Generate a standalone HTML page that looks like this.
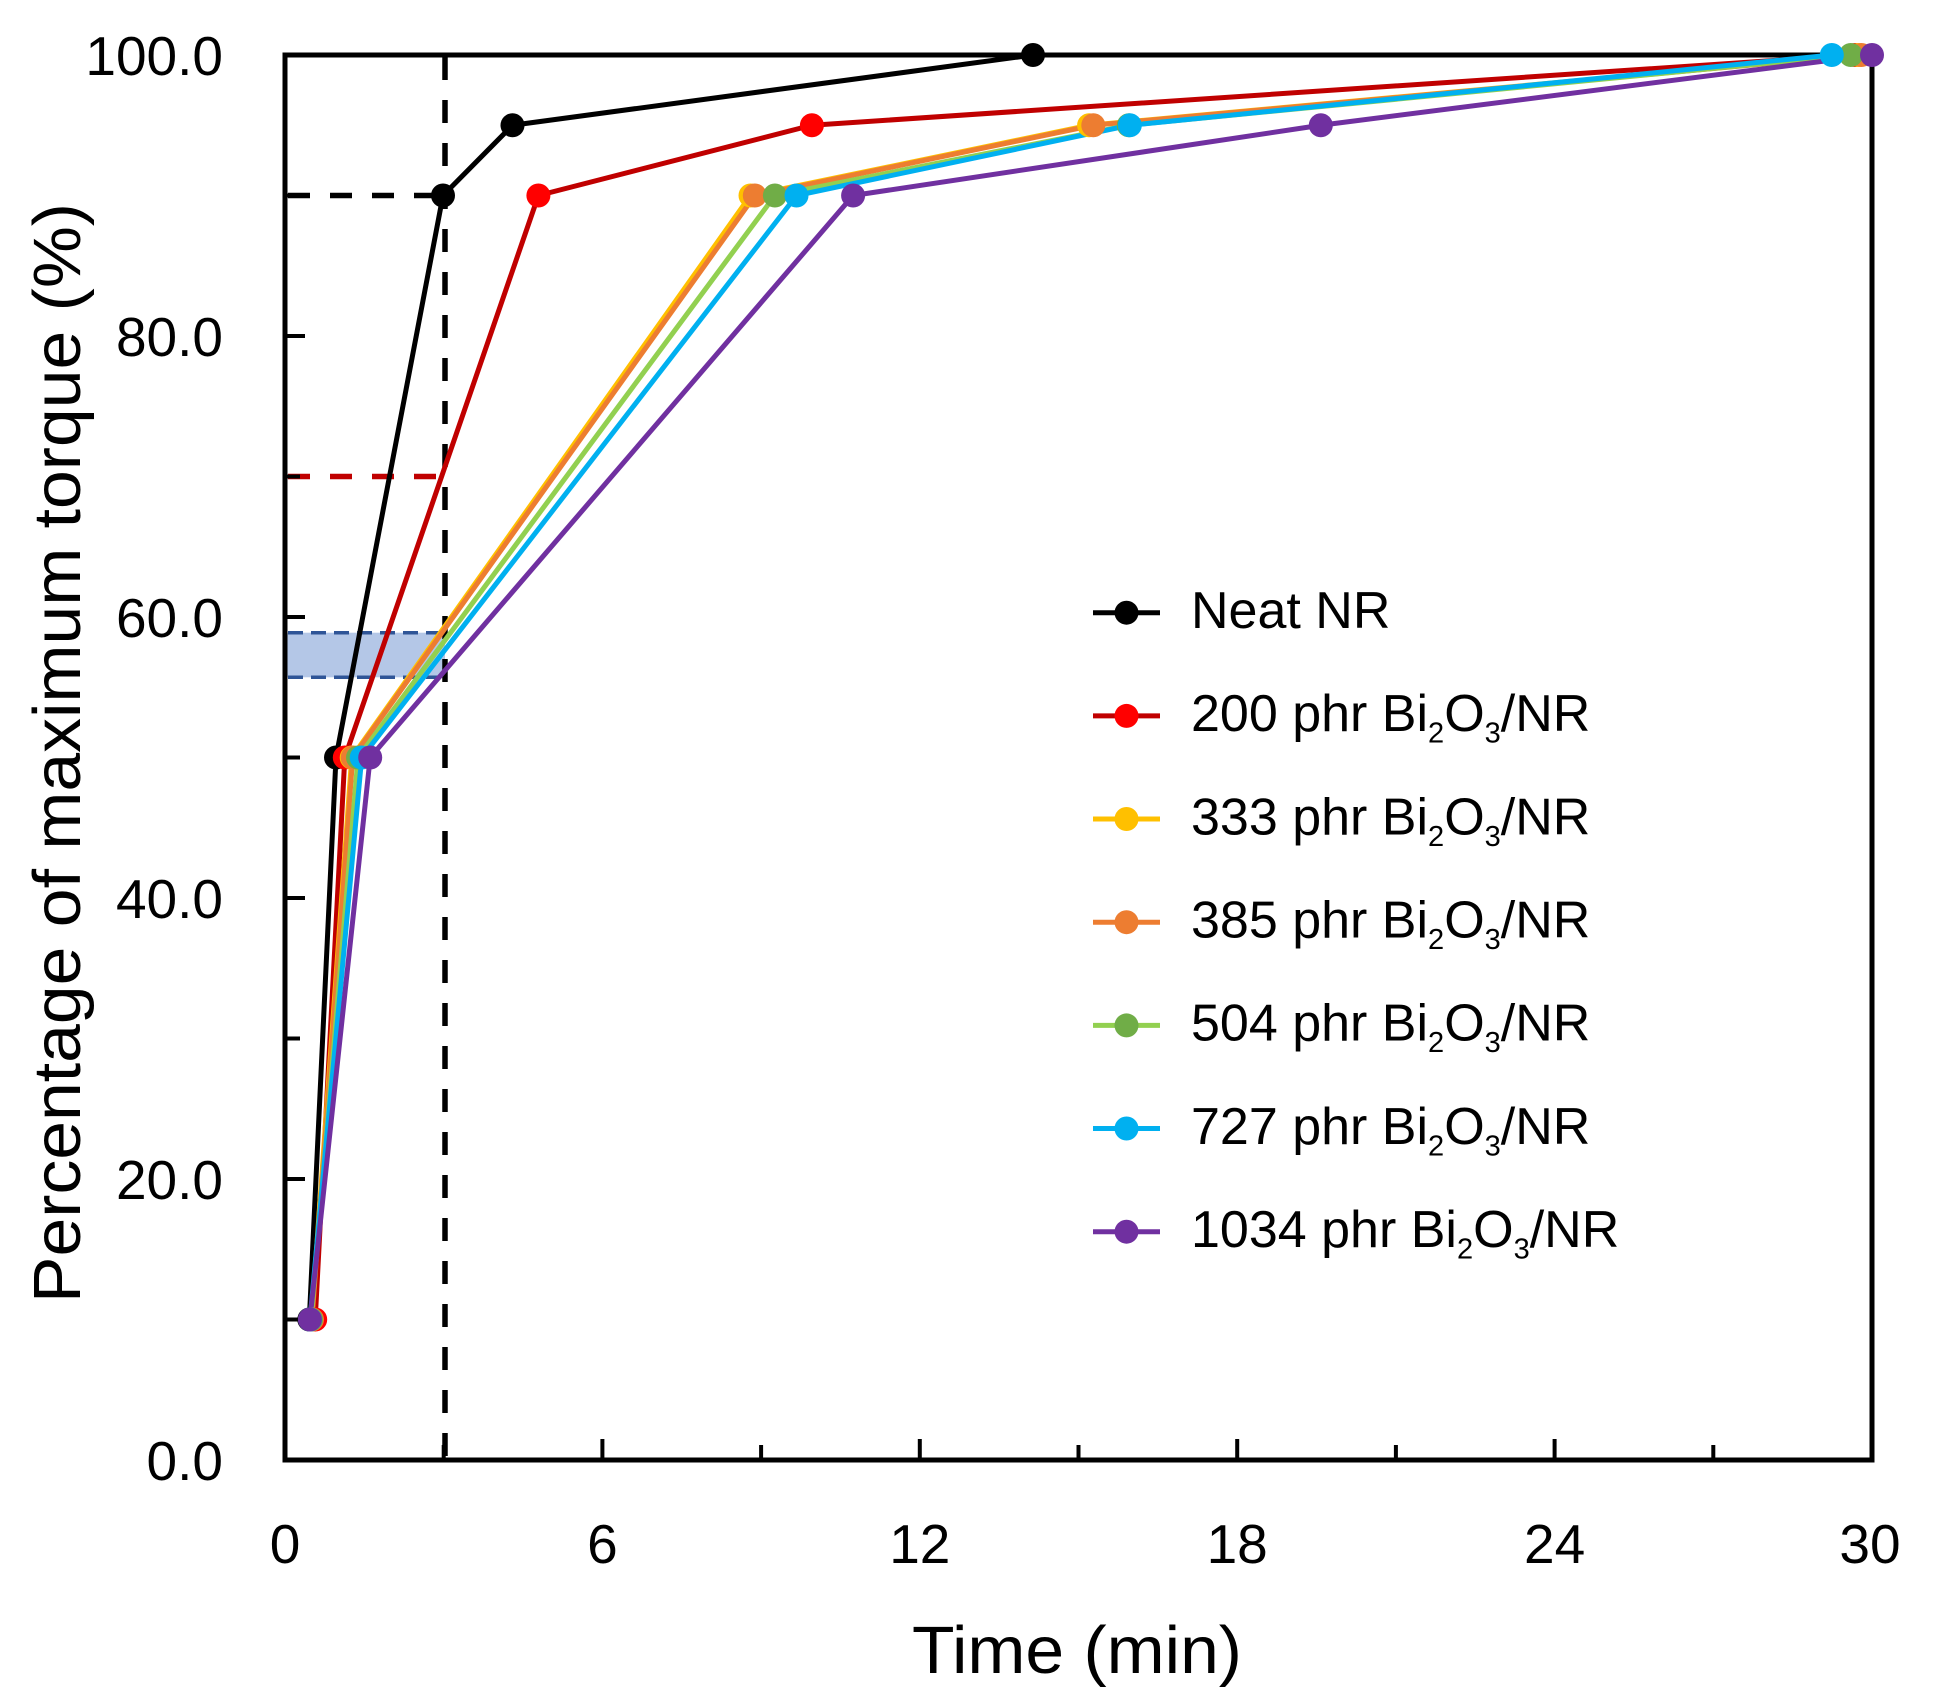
<!DOCTYPE html>
<html>
<head>
<meta charset="utf-8">
<style>
  html, body { margin: 0; padding: 0; background: #ffffff; }
  svg { display: block; }
  text { font-family: "Liberation Sans", "DejaVu Sans", sans-serif; fill: #000; }
</style>
</head>
<body>
<svg width="1939" height="1707" viewBox="0 0 1939 1707" xmlns="http://www.w3.org/2000/svg">
  <rect x="0" y="0" width="1939" height="1707" fill="#ffffff"/>

  <!-- blue band -->
  <rect x="287" y="632.7" width="158" height="44.6" fill="#b4c7e7"/>
  <line x1="288" y1="632.7" x2="445" y2="632.7" stroke="#2f5597" stroke-width="3.5" stroke-dasharray="15 8"/>
  <line x1="288" y1="677.3" x2="445" y2="677.3" stroke="#2f5597" stroke-width="3.5" stroke-dasharray="15 8"/>

  <!-- dashed guides -->
  <line x1="445" y1="57" x2="445" y2="1460" stroke="#000" stroke-width="5.5" stroke-dasharray="23 20"/>
  <line x1="288" y1="195.5" x2="445" y2="195.5" stroke="#000" stroke-width="5.5" stroke-dasharray="22 20"/>
  <line x1="288" y1="476.5" x2="445" y2="476.5" stroke="#c00000" stroke-width="5.5" stroke-dasharray="22 20"/>

  <!-- axes box -->
  <rect x="285" y="55" width="1587" height="1405" fill="none" stroke="#000" stroke-width="5"/>

  <!-- y ticks -->
  <g stroke="#000" stroke-width="4">
    <line x1="285" y1="1319.5" x2="300" y2="1319.5"/>
    <line x1="285" y1="1179" x2="305" y2="1179"/>
    <line x1="285" y1="1038.5" x2="300" y2="1038.5"/>
    <line x1="285" y1="898" x2="305" y2="898"/>
    <line x1="285" y1="757.5" x2="300" y2="757.5"/>
    <line x1="285" y1="617" x2="305" y2="617"/>
    <line x1="285" y1="476.5" x2="300" y2="476.5"/>
    <line x1="285" y1="336" x2="305" y2="336"/>
    <line x1="285" y1="195.5" x2="300" y2="195.5"/>
  </g>
  <!-- x ticks -->
  <g stroke="#000" stroke-width="4">
    <line x1="443.7" y1="1460" x2="443.7" y2="1445"/>
    <line x1="602.4" y1="1460" x2="602.4" y2="1439"/>
    <line x1="761.1" y1="1460" x2="761.1" y2="1445"/>
    <line x1="919.8" y1="1460" x2="919.8" y2="1439"/>
    <line x1="1078.5" y1="1460" x2="1078.5" y2="1445"/>
    <line x1="1237.2" y1="1460" x2="1237.2" y2="1439"/>
    <line x1="1395.9" y1="1460" x2="1395.9" y2="1445"/>
    <line x1="1554.6" y1="1460" x2="1554.6" y2="1439"/>
    <line x1="1713.3" y1="1460" x2="1713.3" y2="1445"/>
  </g>

  <!-- y tick labels -->
  <g font-size="55" text-anchor="end">
    <text x="223" y="75">100.0</text>
    <text x="223" y="356">80.0</text>
    <text x="223" y="637">60.0</text>
    <text x="223" y="918">40.0</text>
    <text x="223" y="1199">20.0</text>
    <text x="223" y="1480">0.0</text>
  </g>
  <!-- x tick labels -->
  <g font-size="55" text-anchor="middle">
    <text x="285" y="1563">0</text>
    <text x="602.4" y="1563">6</text>
    <text x="919.8" y="1563">12</text>
    <text x="1237.2" y="1563">18</text>
    <text x="1554.6" y="1563">24</text>
    <text x="1870" y="1563">30</text>
  </g>

  <!-- axis titles -->
  <text x="1077" y="1673" font-size="67" text-anchor="middle" textLength="330" lengthAdjust="spacingAndGlyphs">Time (min)</text>
  <text transform="translate(80,753) rotate(-90)" x="0" y="0" font-size="67" text-anchor="middle" textLength="1100" lengthAdjust="spacingAndGlyphs">Percentage of maximum torque (%)</text>

  <!-- series -->
  <g fill="none" stroke-width="5" stroke-linejoin="round">
    <polyline stroke="#000000" points="309.3,1319.5 336,757.5 443,195.5 512.5,125.25 1033,55 1872,55"/>
    <polyline stroke="#c00000" points="315.2,1319.5 344.8,757.5 538.4,195.5 811.9,125.25 1855.1,55"/>
    <polyline stroke="#ffc000" points="311.5,1319.5 351.7,757.5 750.5,195.5 1089.1,125.25 1858.8,55"/>
    <polyline stroke="#ed7d31" points="312,1319.5 352.7,757.5 754.8,195.5 1093.3,125.25 1861.4,55"/>
    <polyline stroke="#92d050" points="311,1319.5 358,757.5 774.9,195.5 1128.8,125.25 1850.8,55"/>
    <polyline stroke="#00b0f0" points="310,1319.5 361.7,757.5 796.5,195.5 1129.8,125.25 1831.8,55"/>
    <polyline stroke="#7030a0" points="309.9,1319.5 370.2,757.5 853.1,195.5 1320.8,125.25 1872,55"/>
  </g>
  <!-- markers -->
  <g fill="#000000">
    <circle cx="309.3" cy="1319.5" r="12"/><circle cx="336" cy="757.5" r="12"/><circle cx="443" cy="195.5" r="12"/><circle cx="512.5" cy="125.25" r="12"/><circle cx="1033" cy="55" r="12"/>
  </g>
  <g fill="#ff0000">
    <circle cx="315.2" cy="1319.5" r="12"/><circle cx="344.8" cy="757.5" r="12"/><circle cx="538.4" cy="195.5" r="12"/><circle cx="811.9" cy="125.25" r="12"/><circle cx="1855.1" cy="55" r="12"/>
  </g>
  <g fill="#ffc000">
    <circle cx="311.5" cy="1319.5" r="12"/><circle cx="351.7" cy="757.5" r="12"/><circle cx="750.5" cy="195.5" r="12"/><circle cx="1089.1" cy="125.25" r="12"/><circle cx="1858.8" cy="55" r="12"/>
  </g>
  <g fill="#ed7d31">
    <circle cx="312" cy="1319.5" r="12"/><circle cx="352.7" cy="757.5" r="12"/><circle cx="754.8" cy="195.5" r="12"/><circle cx="1093.3" cy="125.25" r="12"/><circle cx="1861.4" cy="55" r="12"/>
  </g>
  <g fill="#70ad47">
    <circle cx="311" cy="1319.5" r="12"/><circle cx="358" cy="757.5" r="12"/><circle cx="774.9" cy="195.5" r="12"/><circle cx="1128.8" cy="125.25" r="12"/><circle cx="1850.8" cy="55" r="12"/>
  </g>
  <g fill="#00b0f0">
    <circle cx="310" cy="1319.5" r="12"/><circle cx="361.7" cy="757.5" r="12"/><circle cx="796.5" cy="195.5" r="12"/><circle cx="1129.8" cy="125.25" r="12"/><circle cx="1831.8" cy="55" r="12"/>
  </g>
  <g fill="#7030a0">
    <circle cx="309.9" cy="1319.5" r="12"/><circle cx="370.2" cy="757.5" r="12"/><circle cx="853.1" cy="195.5" r="12"/><circle cx="1320.8" cy="125.25" r="12"/><circle cx="1872" cy="55" r="12"/>
  </g>

  <!-- legend -->
  <g stroke-width="5">
    <line x1="1093" y1="612.7" x2="1160" y2="612.7" stroke="#000000"/>
    <line x1="1093" y1="715.9" x2="1160" y2="715.9" stroke="#c00000"/>
    <line x1="1093" y1="819.0" x2="1160" y2="819.0" stroke="#ffc000"/>
    <line x1="1093" y1="922.2" x2="1160" y2="922.2" stroke="#ed7d31"/>
    <line x1="1093" y1="1025.4" x2="1160" y2="1025.4" stroke="#92d050"/>
    <line x1="1093" y1="1128.5" x2="1160" y2="1128.5" stroke="#00b0f0"/>
    <line x1="1093" y1="1231.7" x2="1160" y2="1231.7" stroke="#7030a0"/>
  </g>
  <circle cx="1126.5" cy="612.7" r="12" fill="#000000"/>
  <circle cx="1126.5" cy="715.9" r="12" fill="#ff0000"/>
  <circle cx="1126.5" cy="819.0" r="12" fill="#ffc000"/>
  <circle cx="1126.5" cy="922.2" r="12" fill="#ed7d31"/>
  <circle cx="1126.5" cy="1025.4" r="12" fill="#70ad47"/>
  <circle cx="1126.5" cy="1128.5" r="12" fill="#00b0f0"/>
  <circle cx="1126.5" cy="1231.7" r="12" fill="#7030a0"/>

  <g font-size="52">
    <text x="1191" y="628.2">Neat NR</text>
    <text x="1191" y="731.2">200 phr Bi<tspan dy="11.5" font-size="29">2</tspan><tspan dy="-11.5">O</tspan><tspan dy="11.5" font-size="29">3</tspan><tspan dy="-11.5">/NR</tspan></text>
    <text x="1191" y="834.3">333 phr Bi<tspan dy="11.5" font-size="29">2</tspan><tspan dy="-11.5">O</tspan><tspan dy="11.5" font-size="29">3</tspan><tspan dy="-11.5">/NR</tspan></text>
    <text x="1191" y="937.5">385 phr Bi<tspan dy="11.5" font-size="29">2</tspan><tspan dy="-11.5">O</tspan><tspan dy="11.5" font-size="29">3</tspan><tspan dy="-11.5">/NR</tspan></text>
    <text x="1191" y="1040.7">504 phr Bi<tspan dy="11.5" font-size="29">2</tspan><tspan dy="-11.5">O</tspan><tspan dy="11.5" font-size="29">3</tspan><tspan dy="-11.5">/NR</tspan></text>
    <text x="1191" y="1143.8">727 phr Bi<tspan dy="11.5" font-size="29">2</tspan><tspan dy="-11.5">O</tspan><tspan dy="11.5" font-size="29">3</tspan><tspan dy="-11.5">/NR</tspan></text>
    <text x="1191" y="1247.0">1034 phr Bi<tspan dy="11.5" font-size="29">2</tspan><tspan dy="-11.5">O</tspan><tspan dy="11.5" font-size="29">3</tspan><tspan dy="-11.5">/NR</tspan></text>
  </g>
</svg>
</body>
</html>
